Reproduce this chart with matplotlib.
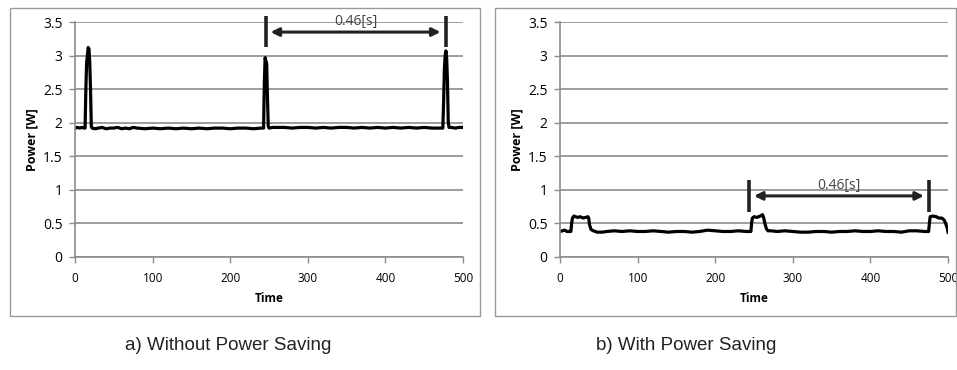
import matplotlib
matplotlib.use("Agg")
import matplotlib.pyplot as plt
from matplotlib.patches import Rectangle

# --- Data ---
t_off = [0, 3, 6, 9, 12, 13, 14, 15, 16, 17, 18, 19, 20, 21, 22, 26, 30, 35, 40, 45,
         50, 55, 60, 65, 70, 75, 80, 90, 100, 110, 120, 130, 140, 150, 160, 170, 180,
         190, 200, 210, 220, 230, 240, 243, 244, 245, 246, 247, 248, 249, 250, 255,
         260, 270, 280, 290, 300, 310, 320, 330, 340, 350, 360, 370, 380, 390, 400,
         410, 420, 430, 440, 450, 460, 470, 474, 475, 476, 477, 478, 479, 480, 481,
         482, 485, 490, 495, 500]
p_off = [1.92, 1.93, 1.92, 1.93, 1.92, 1.92, 2.5, 2.9, 3.0, 3.12, 3.1, 2.9, 2.5, 1.95,
         1.92, 1.91, 1.92, 1.93, 1.91, 1.92, 1.92, 1.93, 1.91, 1.92, 1.91, 1.93, 1.92,
         1.91, 1.92, 1.91, 1.92, 1.91, 1.92, 1.91, 1.92, 1.91, 1.92, 1.92, 1.91, 1.92,
         1.92, 1.91, 1.92, 1.92, 2.6, 2.97, 2.92, 2.88, 2.4, 1.95, 1.92, 1.93, 1.93,
         1.93, 1.92, 1.93, 1.93, 1.92, 1.93, 1.92, 1.93, 1.93, 1.92, 1.93, 1.92, 1.93,
         1.92, 1.93, 1.92, 1.93, 1.92, 1.93, 1.92, 1.92, 1.92, 2.3, 2.8, 3.0, 3.07,
         2.95, 2.6, 2.0, 1.93, 1.93, 1.92, 1.93, 1.93]

t_on = [0, 3, 6, 9, 12, 14, 15, 16, 18, 20, 23, 26, 30, 33, 36, 37, 38, 40, 43, 48,
        55, 60, 70, 80, 90, 100, 110, 120, 130, 140, 150, 160, 170, 180, 190, 200,
        210, 220, 230, 240, 245, 246, 247, 248, 250, 254, 258, 261, 262, 263, 264,
        266, 268, 272, 280, 290, 300, 310, 320, 330, 340, 350, 360, 370, 380, 390,
        400, 410, 420, 430, 440, 450, 460, 470, 474, 475, 476, 477, 480, 485, 488,
        492, 495, 497, 499, 500]
p_on = [0.38, 0.39, 0.40, 0.38, 0.38, 0.38, 0.50, 0.58, 0.61, 0.60, 0.59, 0.60, 0.58,
        0.59, 0.60, 0.58, 0.48, 0.41, 0.39, 0.37, 0.37, 0.38, 0.39, 0.38, 0.39, 0.38,
        0.38, 0.39, 0.38, 0.37, 0.38, 0.38, 0.37, 0.38, 0.40, 0.39, 0.38, 0.38, 0.39,
        0.38, 0.38, 0.38, 0.52, 0.58, 0.60, 0.59, 0.61, 0.63, 0.60, 0.56, 0.50, 0.42,
        0.39, 0.39, 0.38, 0.39, 0.38, 0.37, 0.37, 0.38, 0.38, 0.37, 0.38, 0.38, 0.39,
        0.38, 0.38, 0.39, 0.38, 0.38, 0.37, 0.39, 0.39, 0.38, 0.38, 0.38, 0.50, 0.60,
        0.61, 0.60, 0.58, 0.58, 0.55, 0.50, 0.43, 0.37]

panels = [
    {"t": t_off, "p": p_off, "bars": (246, 478), "bar_y": (3.13, 3.59),
     "arrow": (252, 471, 3.35), "label_y": 3.5, "caption": "a) Without Power Saving"},
    {"t": t_on, "p": p_on, "bars": (244, 475.5), "bar_y": (0.67, 1.15),
     "arrow": (250, 469, 0.91), "label_y": 1.07, "caption": "b) With Power Saving"},
]

W, H = 957, 370
fig = plt.figure(figsize=(W / 100, H / 100), dpi=100)
plt.rcParams["font.family"] = ["Open Sans", "DejaVu Sans"]

grid_c = "#8c8c8c"
axes_left = [75, 560]
box_left = [10, 495]
box_right = [480, 956]
cap_x = [228, 686]

for i, pnl in enumerate(panels):
    # --- outer chart border ---
    fig.patches.append(Rectangle((box_left[i] / W, (H - 316) / H),
                                 (box_right[i] - box_left[i]) / W, 308 / H,
                                 transform=fig.transFigure, fill=False,
                                 edgecolor="#9a9a9a", linewidth=1.0))

    ax = fig.add_axes([axes_left[i] / W, (H - 257) / H, 388 / W, 235 / H])
    ax.plot(pnl["t"], pnl["p"], color="black", linewidth=2.3, solid_joinstyle="round")
    ax.set_xlim(0, 500)
    ax.set_ylim(0, 3.5)
    ax.set_xticks(range(0, 501, 100))
    ax.set_yticks([0, 0.5, 1, 1.5, 2, 2.5, 3, 3.5])
    ax.set_yticklabels(["0", "0.5", "1", "1.5", "2", "2.5", "3", "3.5"])
    ax.yaxis.grid(True, color=grid_c, linewidth=1.2)
    ax.set_axisbelow(True)
    for s in ("top", "right"):
        ax.spines[s].set_visible(False)
    for s in ("left", "bottom"):
        ax.spines[s].set_color(grid_c)
        ax.spines[s].set_linewidth(1.2)
    ax.tick_params(axis="x", colors=grid_c, labelcolor="black", labelsize=8.5,
                   length=4, width=1.0, pad=7)
    ax.tick_params(axis="y", colors=grid_c, labelcolor="black", labelsize=10,
                   length=4, width=1.0, pad=5)
    ax.set_xlabel("Time", fontsize=8.5, fontweight="bold", labelpad=5)
    ax.set_ylabel("Power [W]", fontsize=9, fontweight="bold", labelpad=3)

    # --- period annotation ---
    y0, y1 = pnl["bar_y"]
    for bx in pnl["bars"]:
        ax.plot([bx, bx], [y0, y1], color="#222222", linewidth=2.6, clip_on=False,
                solid_capstyle="butt")
    ax0, ax1, ay = pnl["arrow"]
    ax.annotate("", xy=(ax1, ay), xytext=(ax0, ay), annotation_clip=False,
                arrowprops=dict(arrowstyle="<|-|>", color="#222222", lw=2.2,
                                mutation_scale=12, shrinkA=0, shrinkB=0))
    ax.text((ax0 + ax1) / 2, pnl["label_y"], "0.46[s]", ha="center", va="center",
            fontsize=10, color="#444444")

    fig.text(cap_x[i] / W, (H - 345) / H, pnl["caption"], ha="center", va="center",
             fontsize=13.5, family="Liberation Sans", color="#222222")

fig.savefig("out.png", dpi=100)
